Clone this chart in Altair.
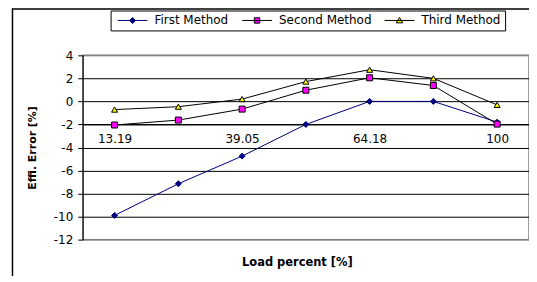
import json
import altair as alt
import pandas as pd

# ---- data ----
tick_labels = ["13.19", "", "39.05", "", "64.18", "", "100"]
series_names = ["First Method", "Second Method", "Third Method"]
first_method = [-9.9, -7.15, -4.75, -2.0, 0.0, 0.0, -1.8]
second_method = [-2.05, -1.62, -0.67, 0.97, 2.05, 1.38, -1.97]
third_method = [-0.71, -0.46, 0.2, 1.72, 2.75, 2.0, -0.3]
y_ticks = [-12, -10, -8, -6, -4, -2, 0, 2, 4]

rows = []
for name, vals in zip(series_names, [first_method, second_method, third_method]):
    for i, v in enumerate(vals):
        rows.append({"idx": i, "value": v, "series": name})
df = pd.DataFrame(rows)

FONT = "DejaVu Sans"
NAVY = "#000080"
line_colors = [NAVY, "#000000", "#000000"]
fill_colors = [NAVY, "#FF00FF", "#FFFF00"]
marker_shapes = ["diamond", "square", "triangle-up"]
legend_paths = [
    "M-1,0H9M4,-1L5,0L4,1L3,0Z",
    "M-1,0H9M3.1,-0.9H4.9V0.9H3.1Z",
    "M-1,0H9M4,-1L5.1,0.8H2.9Z",
]

W, H = 448, 185
ymin, ymax = -12, 4
axis_y_val = -2
x_offset = -H * (axis_y_val - ymin) / (ymax - ymin)

label_expr = json.dumps(tick_labels) + "[datum.value]"

x_enc = alt.X(
    "idx:Q",
    scale=alt.Scale(domain=[-0.5, len(tick_labels) - 0.5], nice=False, zero=False),
    axis=alt.Axis(
        values=list(range(len(tick_labels))),
        labelExpr=label_expr,
        offset=x_offset,
        grid=False,
        ticks=False,
        domainColor="#000000",
        domainWidth=1,
        labelFont=FONT,
        labelFontSize=12,
        labelColor="#000000",
        labelPadding=9,
        labelFlush=False,
        labelOverlap=False,
        title="Load percent [%]",
        titleFont=FONT,
        titleFontSize=11.5,
        titleFontWeight="bold",
        titleColor="#000000",
        titleX=215,
        titleY=139,
        titleAlign="center",
        titleBaseline="middle",
    ),
)

y_enc = alt.Y(
    "value:Q",
    scale=alt.Scale(domain=[ymin, ymax], nice=False, zero=False),
    axis=alt.Axis(
        values=y_ticks,
        labelExpr="toString(datum.value)",
        grid=True,
        gridColor={"condition": {"test": "datum.value == 4 || datum.value == -12", "value": "#808080"},
                   "value": "#000000"},
        gridWidth=1,
        domainColor="#000000",
        tickColor="#000000",
        tickSize=5,
        labelFont=FONT,
        labelFontSize=12,
        labelColor="#000000",
        labelPadding=5,
        title="Effi. Error [%]",
        titleFont=FONT,
        titleFontSize=11,
        titleFontWeight="bold",
        titleColor="#000000",
        titleAngle=-90,
        titleX=-50,
        titleY=H / 2,
        titleAlign="center",
        titleBaseline="middle",
    ),
)

stroke_scale = alt.Scale(domain=series_names, range=line_colors)
fill_scale = alt.Scale(domain=series_names, range=fill_colors)

lines = alt.Chart(df).mark_line(strokeWidth=1).encode(
    x=x_enc,
    y=y_enc,
    stroke=alt.Stroke("series:N", scale=stroke_scale, legend=None),
    order="idx:Q",
)

points = alt.Chart(df).mark_point(filled=True, size=36, strokeWidth=1, opacity=1).encode(
    x=x_enc,
    y=y_enc,
    shape=alt.Shape("series:N", scale=alt.Scale(domain=series_names, range=marker_shapes), legend=None),
    fill=alt.Fill("series:N", scale=fill_scale, legend=None),
    stroke=alt.Stroke("series:N", scale=stroke_scale, legend=None),
)

legend_kw = dict(
    title=None,
    orient="none",
    legendX=28,
    legendY=-45,
    direction="horizontal",
    strokeColor="#000000",
    fillColor="#FFFFFF",
    padding=4,
    columnPadding=10,
    symbolSize=36,
    symbolStrokeWidth=1,
    labelOffset=28,
    labelFont=FONT,
    labelFontSize=12,
    labelColor="#000000",
)

legend_layer = alt.Chart(df).transform_filter("false").mark_point(
    filled=True, size=36, strokeWidth=1, opacity=1
).encode(
    x=x_enc,
    y=y_enc,
    shape=alt.Shape("series:N", scale=alt.Scale(domain=series_names, range=legend_paths),
                    legend=alt.Legend(**legend_kw)),
    fill=alt.Fill("series:N", scale=fill_scale, legend=alt.Legend(**legend_kw)),
    stroke=alt.Stroke("series:N", scale=stroke_scale, legend=alt.Legend(**legend_kw)),
)

frame_left = alt.Chart(alt.Data(values=[{}])).mark_rule(color="#000000", strokeWidth=1.5).encode(
    x=alt.value(-70.5), y=alt.value(-47), y2=alt.value(245)
)
frame_top = alt.Chart(alt.Data(values=[{}])).mark_rule(color="#000000", strokeWidth=1.5).encode(
    x=alt.value(-71), x2=alt.value(460), y=alt.value(-46.5)
)

chart = (
    alt.layer(lines, points, legend_layer, frame_left, frame_top)
    .resolve_scale(shape="independent", fill="independent", stroke="independent")
    .properties(
        width=W,
        height=H,
        autosize=alt.AutoSizeParams(type="none"),
        padding={"left": 75, "top": 47, "right": 0, "bottom": 36},
        background="#FFFFFF",
    )
    .configure_view(stroke="#808080", strokeWidth=1.5)
)

chart.save("out.html", embed_options={"renderer": "svg", "actions": False})
